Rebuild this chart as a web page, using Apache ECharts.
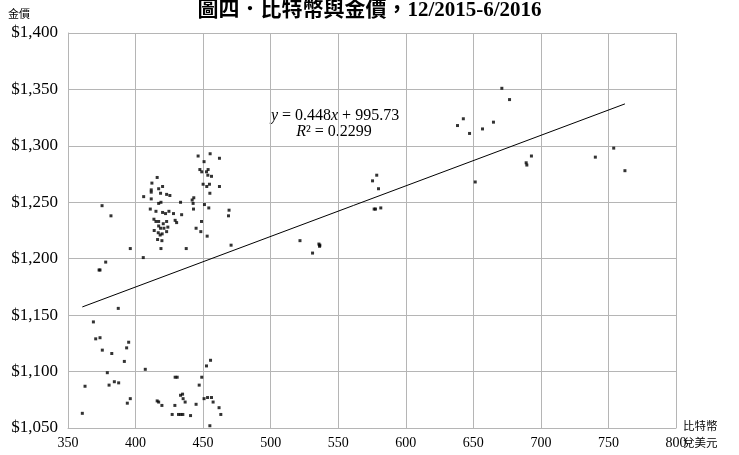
<!DOCTYPE html>
<html>
<head>
<meta charset="utf-8">
<script src="https://cdn.jsdelivr.net/npm/echarts@6/dist/echarts.min.js"></script>
<style>
html,body{margin:0;padding:0;background:#fff;}
#chart{width:739px;height:455px;}
</style>
</head>
<body>
<div id="chart"></div>
<script>
// Bitcoin price (USD) per observation
var bitcoin = [416.0,412.1,420.0,417.1,411.6,411.6,418.5,423.0,425.4,406.0,411.6,417.1,418.8,410.9,415.1,420.0,422.2,424.7,428.1,413.6,415.1,417.1,423.0,420.5,429.3,430.4,423.9,418.5,421.0,413.8,416.8,423.0,419.7,418.2,416.3,419.5,396.1,418.8,405.7,375.2,381.8,377.9,373.0,373.7,417.1,
  455.2,446.3,462.1,450.7,447.6,449.0,453.7,452.5,453.5,456.2,450.0,454.7,452.7,462.1,455.0,443.1,441.9,442.6,433.3,451.0,454.2,442.9,469.2,468.8,434.1,448.8,444.8,448.3,453.0,437.5,470.7,
  387.2,368.8,370.5,373.7,394.9,393.4,375.4,382.4,391.7,407.2,379.1,362.6,429.3,430.8,380.4,384.3,387.5,396.1,393.9,416.0,417.1,419.5,429.1,427.1,431.8,360.6,
  455.5,452.5,449.0,447.1,433.3,434.8,435.2,436.7,444.8,450.7,453.3,456.2,457.4,461.8,463.1,433.5,435.0,440.7,455.0,
  578.5,575.4,579.8,576.6,577.6,581.5,521.7,535.7,536.4,536.2,531.0,
  671.1,676.8,642.6,638.3,664.9,656.8,647.2,693.0,689.1,689.6,740.3,651.4,753.9,762.2];
// Gold price (USD) per observation
var gold = [1272,1267,1264,1262,1261,1259,1258,1257,1256,1255,1253,1249,1250,1244,1242,1241,1240,1242,1240,1235,1233,1233,1233,1231,1234,1232,1228,1227,1227,1225,1223,1224,1222,1221,1217,1216,1209,1209,1201,1247,1238,1197,1190,1190,1229,
  1293,1291,1289,1286,1279,1277,1279,1277,1274,1273,1266,1266,1264,1264,1258,1254,1252,1249,1250,1248,1245,1244,1243,1238,1239,1233,1227,1224,1220,1209,1212,
  1156,1144,1129,1130,1126,1121,1119,1116,1109,1102,1099,1087,1095,1095,1088,1091,1090,1076,1072,1074,1073,1070,1070,1062,1062,1063,
  1110,1105,1095,1088,1079,1080,1076,1073,1071,1076,1077,1077,1073,1068,1062,1062,1062,1061,1052,
  1274,1269,1262,1244,1244,1245,1216,1213,1212,1211,1205,
  1351,1341,1324,1318,1321,1315,1311,1291,1285,1283,1290,1268,1298,1278];
// Linear trend shown in the chart
var trendSlope = 0.448;
var trendIntercept = 995.73;
var trendRange = [360.6, 762.2];
var xTicks = {min: 350, max: 800, step: 50};
var yTicks = {min: 1050, max: 1400, step: 50};
var titleText = '圖四．比特幣與金價，12/2015-6/2016';

var points = bitcoin.map(function (b, i) { return [b, gold[i]]; });
var trend = trendRange.map(function (x) { return [x, trendSlope * x + trendIntercept]; });

var serif = "'Liberation Serif', 'Noto Sans CJK TC', serif";
var gridColor = '#b5b5b5';
var chart = echarts.init(document.getElementById('chart'), null, {renderer: 'canvas'});
chart.setOption({
  animation: false,
  backgroundColor: '#fff',
  title: {
    text: titleText, left: 'center', top: 0, padding: 0,
    textStyle: {fontFamily: serif, fontSize: 21, fontWeight: 'bold', color: '#000'}
  },
  grid: {left: 68, right: 63, top: 33, bottom: 27, containLabel: false, outerBoundsMode: 'none'},
  xAxis: {
    type: 'value', min: xTicks.min, max: xTicks.max, interval: xTicks.step,
    axisLine: {show: true, lineStyle: {color: gridColor, width: 1}},
    axisTick: {show: false},
    splitLine: {show: true, lineStyle: {color: gridColor, width: 1}},
    axisLabel: {fontFamily: serif, fontSize: 14, color: '#000', margin: 8}
  },
  yAxis: {
    type: 'value', min: yTicks.min, max: yTicks.max, interval: yTicks.step,
    axisLine: {show: true, lineStyle: {color: gridColor, width: 1}},
    axisTick: {show: false},
    splitLine: {show: true, lineStyle: {color: gridColor, width: 1}},
    axisLabel: {
      fontFamily: serif, fontSize: 17, color: '#000', margin: 10,
      formatter: function (v) { return '$' + v.toLocaleString('en-US'); }
    }
  },
  series: [
    {
      type: 'scatter', data: points, symbol: 'rect', symbolSize: 3,
      itemStyle: {color: '#000'}, z: 3
    },
    {
      type: 'line', data: trend, showSymbol: false, symbol: 'none',
      lineStyle: {color: '#000', width: 1}, z: 2
    }
  ],
  graphic: [
    {
      type: 'text', left: 8, top: 8,
      style: {text: '金價', font: "11px 'Noto Sans CJK TC'", fill: '#000'}
    },
    {
      type: 'text', left: 683, top: 417,
      style: {text: '比特幣\n兌美元', font: "11.5px 'Noto Sans CJK TC'", lineHeight: 17, fill: '#000'}
    },
    {
      type: 'text', x: 335, y: 116,
      style: {
        text: '{i|y} = 0.448{i|x} + 995.73',
        align: 'center', verticalAlign: 'middle',
        fontFamily: 'Liberation Serif', fontSize: 16, fill: '#000',
        rich: {i: {fontFamily: 'Liberation Serif', fontStyle: 'italic', fontSize: 16}}
      }
    },
    {
      type: 'text', x: 334, y: 132,
      style: {
        text: '{i|R}² = 0.2299',
        align: 'center', verticalAlign: 'middle',
        fontFamily: 'Liberation Serif', fontSize: 16, fill: '#000',
        rich: {i: {fontFamily: 'Liberation Serif', fontStyle: 'italic', fontSize: 16}}
      }
    }
  ]
});
</script>
</body>
</html>
